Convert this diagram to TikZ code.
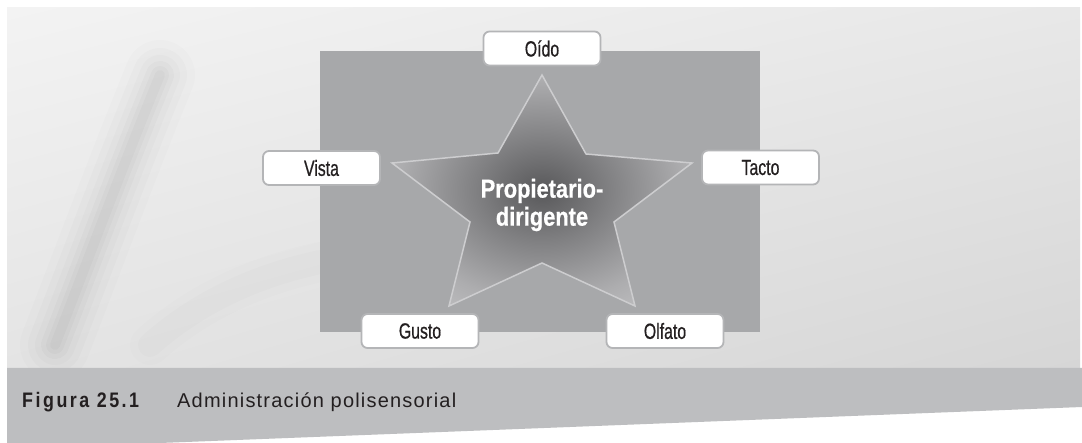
\documentclass[tikz,border=0pt]{standalone}
\usepackage{fontspec}
\usetikzlibrary{shadings}
\setmainfont{Liberation Sans}
\newfontfamily\boxfont[FakeStretch=0.72,FakeBold=0.6]{Liberation Sans}
\newfontfamily\starfont[FakeStretch=0.84,FakeBold=0.6]{Liberation Sans Bold}
\newfontfamily\figfont[FakeStretch=0.85,LetterSpace=12]{Liberation Sans Bold}
\newfontfamily\capfont[LetterSpace=6]{Liberation Sans}
\definecolor{rectgray}{HTML}{A7A8AA}
\definecolor{bandgray}{HTML}{BDBEC0}
\definecolor{boxborder}{HTML}{B4B5B7}
\definecolor{starline}{HTML}{CDCDCF}
\definecolor{txt}{HTML}{231F20}
\definecolor{stardark}{HTML}{58585A}
\definecolor{starmid}{HTML}{808082}
\definecolor{starlight}{HTML}{ADADAF}
\definecolor{starouter}{HTML}{D8D8DA}
\definecolor{bgul}{HTML}{F3F3F3}
\definecolor{bgur}{HTML}{E8E8E8}
\definecolor{bgll}{HTML}{E4E4E4}
\definecolor{bglr}{HTML}{D6D6D6}
\pgfdeclareradialshading{starshade}{\pgfpoint{0bp}{0bp}}{color(0bp)=(stardark); color(11bp)=(starmid); color(24bp)=(starlight); color(42bp)=(starouter); color(50bp)=(starouter)}
\tikzset{
  sense/.style={draw=boxborder, line width=1.8pt, fill=white, rounded corners=6pt,
    minimum width=117pt, minimum height=34pt, inner sep=0pt,
    font=\boxfont\fontsize{22}{25}\selectfont, text=txt},
  startext/.style={align=center, text=white, inner sep=0pt,
    font=\starfont\fontsize{26}{28}\selectfont},
}
\begin{document}
\begin{tikzpicture}[x=1pt,y=-1pt]
\useasboundingbox[fill=white] (0,0) rectangle (1082,443);
% background panel
\shade[upper left=bgul, upper right=bgur, lower left=bgll, lower right=bglr]
  (7,8) rectangle (1080,368);
% soft diagonal streak
\foreach \w/\o in {70/0.012,54/0.014,40/0.016,28/0.018,18/0.02,10/0.02}{
  \draw[line width=\w pt, black, opacity=\o, line cap=round]
    (55,345) .. controls (88,260) and (125,160) .. (160,75);
}
\foreach \w/\o in {40/0.008,24/0.01}{
  \draw[line width=\w pt, black, opacity=\o, line cap=round]
    (150,345) .. controls (200,300) and (260,275) .. (320,262);
}
% caption band
\fill[bandgray] (7,368) -- (1082,368) -- (1082,407) -- (160,443) -- (7,443) -- cycle;
% grey rectangle
\fill[rectgray] (320,51) rectangle (760,332);
% star
\coordinate (t) at (542,75);
\coordinate (ur) at (586,154);
\coordinate (r) at (692,163);
\coordinate (rl) at (614,222);
\coordinate (br) at (635,306);
\coordinate (b) at (542,263);
\coordinate (bl) at (449,306);
\coordinate (ll) at (470,222);
\coordinate (l) at (392,163);
\coordinate (ul) at (498,153);
\shade[shading=starshade] (t) -- (ur) -- (r) -- (rl) -- (br) -- (b) -- (bl) -- (ll) -- (l) -- (ul) -- cycle;
\draw[starline, line width=1.5pt, line join=miter] (t) -- (ur) -- (r) -- (rl) -- (br) -- (b) -- (bl) -- (ll) -- (l) -- (ul) -- cycle;
\node[startext] (center) at (542,205) {Propietario-\\dirigente};
% sense boxes
\node[sense] (oido) at (542,48.5) {Oído};
\node[sense] (vista) at (321.5,168) {Vista};
\node[sense] (tacto) at (760.5,167.5) {Tacto};
\node[sense] (gusto) at (420,331) {Gusto};
\node[sense] (olfato) at (665,331) {Olfato};
% caption
\node[anchor=base west, inner sep=0pt, text=txt, font=\figfont\fontsize{21}{23}\selectfont] (fig) at (22,408) {Figura 25.1};
\node[anchor=base west, inner sep=0pt, text=txt, font=\capfont\fontsize{20}{22}\selectfont] (cap) at (177,408) {Administración polisensorial};
\end{tikzpicture}
\end{document}
